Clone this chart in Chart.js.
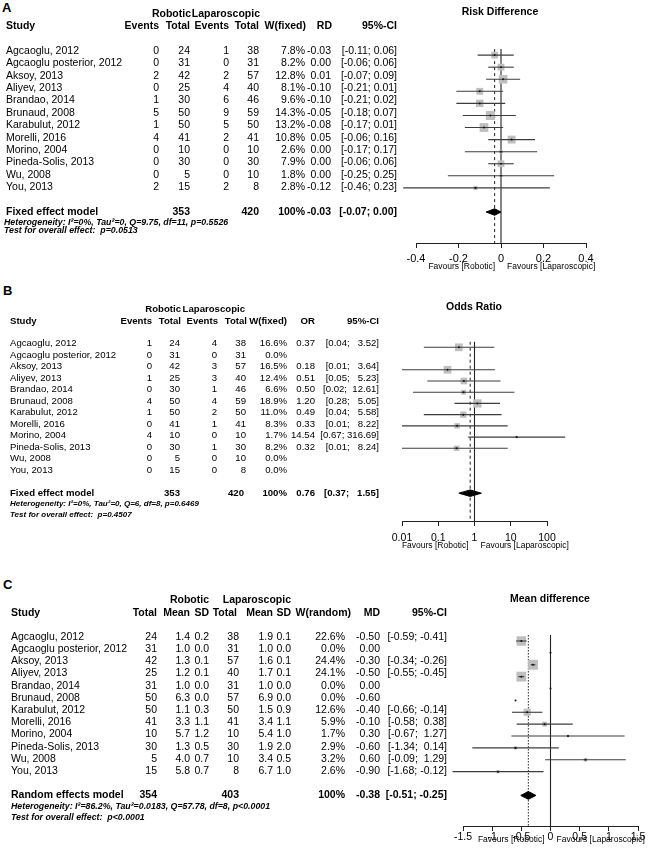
<!DOCTYPE html>
<html>
<head>
<meta charset="utf-8">
<script src="https://cdn.jsdelivr.net/npm/chart.js@4.4.1/dist/chart.umd.min.js"></script>
<style>
html, body { margin: 0; padding: 0; background: #fff; }
#page { position: relative; width: 650px; height: 857px; overflow: hidden;
        font-family: "Liberation Sans", Arial, sans-serif; color: #000; }
.t { position: absolute; white-space: pre; line-height: 1; }
.box { position: absolute; }
</style>
</head>
<body>
<div id="page">
  <div class="box" style="left:320px;top:0px;width:330px;height:273px"><canvas id="plotA"></canvas></div>
  <div class="box" style="left:320px;top:280px;width:330px;height:271px"><canvas id="plotB"></canvas></div>
  <div class="box" style="left:320px;top:560px;width:330px;height:296px"><canvas id="plotC"></canvas></div>
</div>
<script>
var studies = ['Agcaoglu, 2012', 'Agcaoglu posterior, 2012', 'Aksoy, 2013', 'Aliyev, 2013',
               'Brandao, 2014', 'Brunaud, 2008', 'Karabulut, 2012', 'Morelli, 2016',
               'Morino, 2004', 'Pineda-Solis, 2013', 'Wu, 2008', 'You, 2013'];

// A - risk difference
var robEventsA = [0, 0, 2, 0, 1, 5, 1, 4, 0, 0, 0, 2];
var robTotalA  = [24, 31, 42, 25, 30, 50, 50, 41, 10, 30, 5, 15];
var lapEventsA = [1, 0, 2, 4, 6, 9, 5, 2, 0, 0, 0, 2];
var lapTotalA  = [38, 31, 57, 40, 46, 59, 50, 41, 10, 30, 10, 8];
var weightA    = [7.8, 8.2, 12.8, 8.1, 9.6, 14.3, 13.2, 10.8, 2.6, 7.9, 1.8, 2.8];
var rdA        = [-0.03, 0.00, 0.01, -0.10, -0.10, -0.05, -0.08, 0.05, 0.00, 0.00, 0.00, -0.12];
var rdLowA     = [-0.11, -0.06, -0.07, -0.21, -0.21, -0.18, -0.17, -0.06, -0.17, -0.06, -0.25, -0.46];
var rdHighA    = [0.06, 0.06, 0.09, 0.01, 0.02, 0.07, 0.01, 0.16, 0.17, 0.06, 0.25, 0.23];
var summaryA   = [-0.03, -0.07, 0.00];
var totalsA    = [353, 420];
var ticksA     = [-0.4, -0.2, 0, 0.2, 0.4];
var tickLabelsA = ['-0.4', '-0.2', '0', '0.2', '0.4'];
var hetA  = 'Heterogeneity: I\u00b2=0%, Tau\u00b2=0, Q=9.75, df=11, p=0.5526';
var testA = 'Test for overall effect:  p=0.0513';

// B - odds ratio
var robEventsB = [1, 0, 0, 1, 0, 4, 1, 0, 4, 0, 0, 0];
var robTotalB  = [24, 31, 42, 25, 30, 50, 50, 41, 10, 30, 5, 15];
var lapEventsB = [4, 0, 3, 3, 1, 4, 2, 1, 0, 1, 0, 0];
var lapTotalB  = [38, 31, 57, 40, 46, 59, 50, 41, 10, 30, 10, 8];
var weightB    = [16.6, 0.0, 16.5, 12.4, 6.6, 18.9, 11.0, 8.3, 1.7, 8.2, 0.0, 0.0];
var orB        = [0.37, null, 0.18, 0.51, 0.50, 1.20, 0.49, 0.33, 14.54, 0.32, null, null];
var orLowB     = [0.04, null, 0.01, 0.05, 0.02, 0.28, 0.04, 0.01, 0.67, 0.01, null, null];
var orHighB    = [3.52, null, 3.64, 5.23, 12.61, 5.05, 5.58, 8.22, 316.69, 8.24, null, null];
var summaryB   = [0.76, 0.37, 1.55];
var totalsB    = [353, 420];
var ticksB     = [0.01, 0.1, 1, 10, 100];
var tickLabelsB = ['0.01', '0.1', '1', '10', '100'];
var hetB  = 'Heterogeneity: I\u00b2=0%, Tau\u00b2=0, Q=6, df=8, p=0.6469';
var testB = 'Test for overall effect:  p=0.4507';

// C - mean difference
var robTotalC = [24, 31, 42, 25, 31, 50, 50, 41, 10, 30, 5, 15];
var robMeanC  = [1.4, 1.0, 1.3, 1.2, 1.0, 6.3, 1.1, 3.3, 5.7, 1.3, 4.0, 5.8];
var robSdC    = [0.2, 0.0, 0.1, 0.1, 0.0, 0.0, 0.3, 1.1, 1.2, 0.5, 0.7, 0.7];
var lapTotalC = [38, 31, 57, 40, 31, 57, 50, 41, 10, 30, 10, 8];
var lapMeanC  = [1.9, 1.0, 1.6, 1.7, 1.0, 6.9, 1.5, 3.4, 5.4, 1.9, 3.4, 6.7];
var lapSdC    = [0.1, 0.0, 0.1, 0.1, 0.0, 0.0, 0.9, 1.1, 1.0, 2.0, 0.5, 1.0];
var weightC   = [22.6, 0.0, 24.4, 24.1, 0.0, 0.0, 12.6, 5.9, 1.7, 2.9, 3.2, 2.6];
var mdC       = [-0.50, 0.00, -0.30, -0.50, 0.00, -0.60, -0.40, -0.10, 0.30, -0.60, 0.60, -0.90];
var mdLowC    = [-0.59, null, -0.34, -0.55, null, null, -0.66, -0.58, -0.67, -1.34, -0.09, -1.68];
var mdHighC   = [-0.41, null, -0.26, -0.45, null, null, -0.14, 0.38, 1.27, 0.14, 1.29, -0.12];
var summaryC  = [-0.38, -0.51, -0.25];
var totalsC   = [354, 403];
var ticksC    = [-1.5, -1, -0.5, 0, 0.5, 1, 1.5];
var tickLabelsC = ['-1.5', '-1', '-0.5', '0', '0.5', '1', '1.5'];
var hetC  = 'Heterogeneity: I\u00b2=86.2%, Tau\u00b2=0.0183, Q=57.78, df=8, p<0.0001';
var testC = 'Test for overall effect:  p<0.0001';

var page = document.getElementById('page');
var SUMMARY_ROW = 13;

function text(x, y, s, o) {
    o = o || {};
    var size = o.size || 10.5;
    var el = document.createElement('div');
    el.className = 't';
    el.textContent = s;
    el.style.fontSize = size + 'px';
    if (o.bold) el.style.fontWeight = 'bold';
    if (o.italic) el.style.fontStyle = 'italic';
    el.style.top = (y - size / 2) + 'px';
    if (o.align == 'right')
        el.style.right = (650 - x) + 'px';
    else if (o.align == 'center') {
        el.style.left = x + 'px';
        el.style.transform = 'translateX(-50%)';
    } else
        el.style.left = x + 'px';
    page.appendChild(el);
}

function column(x, ys, vals, o) {
    for (var i = 0; i < vals.length; i++) {
        if (vals[i] === '' || vals[i] == null) continue;
        text(x, ys[i], String(vals[i]), o);
    }
}

function fix(arr, d) {
    return arr.map(function(v) { return v == null ? '' : v.toFixed(d); });
}

function pct(arr) {
    return arr.map(function(v) { return v.toFixed(1) + '%'; });
}

// R style "[lo; hi]" with padded widths
function ciStrings(lo, hi) {
    var l = fix(lo, 2), h = fix(hi, 2);
    var lw = 0, hw = 0;
    l.forEach(function(s) { lw = Math.max(lw, s.length); });
    h.forEach(function(s) { hw = Math.max(hw, s.length); });
    return l.map(function(s, i) {
        if (s === '') return '';
        return '[' + s.padStart(lw) + '; ' + h[i].padStart(hw) + ']';
    });
}

function rowsY(row0, rowH) {
    return studies.map(function(s, i) { return row0 + i * rowH; });
}

/// Tables
function tableA() {
    var r0 = 50, rh = 12.4, f = 10.5;
    var ys = rowsY(r0, rh), ySum = r0 + SUMMARY_ROW * rh;
    var R = {align: 'right', size: f}, RB = {align: 'right', size: f, bold: true};
    var ci = ciStrings(rdLowA.concat([summaryA[1]]), rdHighA.concat([summaryA[2]]));

    text(2, 7, 'A', {size: 13, bold: true});
    text(191, 13, 'Robotic', RB);
    text(260, 13, 'Laparoscopic', RB);
    text(6, 25, 'Study', {size: f, bold: true});
    text(159, 25, 'Events', RB); text(190, 25, 'Total', RB);
    text(229, 25, 'Events', RB); text(259, 25, 'Total', RB);
    text(306, 25, 'W(fixed)', RB); text(332, 25, 'RD', RB); text(397, 25, '95%-CI', RB);

    column(6, ys, studies, {size: f});
    column(159, ys, robEventsA, R); column(190, ys, robTotalA, R);
    column(229, ys, lapEventsA, R); column(259, ys, lapTotalA, R);
    column(305, ys, pct(weightA), R); column(331, ys, fix(rdA, 2), R);
    column(397, ys, ci.slice(0, studies.length), R);

    text(6, ySum, 'Fixed effect model', {size: f, bold: true});
    text(190, ySum, String(totalsA[0]), RB); text(259, ySum, String(totalsA[1]), RB);
    text(305, ySum, '100%', RB); text(331, ySum, summaryA[0].toFixed(2), RB);
    text(397, ySum, ci[studies.length], RB);
    text(4, ySum + 11, hetA, {size: 8.8, bold: true, italic: true});
    text(4, ySum + 19.5, testA, {size: 8.8, bold: true, italic: true});
    text(500, 11, 'Risk Difference', {size: f, bold: true, align: 'center'});
}

function tableB() {
    var r0 = 343, rh = 11.5, f = 9.6;
    var ys = rowsY(r0, rh), ySum = r0 + SUMMARY_ROW * rh;
    var R = {align: 'right', size: f}, RB = {align: 'right', size: f, bold: true};
    var ci = ciStrings(orLowB.concat([summaryB[1]]), orHighB.concat([summaryB[2]]));

    text(3, 290, 'B', {size: 13, bold: true});
    text(181, 309, 'Robotic', RB);
    text(245, 309, 'Laparoscopic', RB);
    text(10, 321, 'Study', {size: f, bold: true});
    text(152, 321, 'Events', RB); text(181, 321, 'Total', RB);
    text(218, 321, 'Events', RB); text(247, 321, 'Total', RB);
    text(287, 321, 'W(fixed)', RB); text(315, 321, 'OR', RB); text(379, 321, '95%-CI', RB);

    column(10, ys, studies, {size: f});
    column(152, ys, robEventsB, R); column(180, ys, robTotalB, R);
    column(217, ys, lapEventsB, R); column(246, ys, lapTotalB, R);
    column(287, ys, pct(weightB), R); column(315, ys, fix(orB, 2), R);
    column(379, ys, ci.slice(0, studies.length), R);

    text(10, ySum, 'Fixed effect model', {size: f, bold: true});
    text(180, ySum, String(totalsB[0]), RB); text(244, ySum, String(totalsB[1]), RB);
    text(287, ySum, '100%', RB); text(315, ySum, summaryB[0].toFixed(2), RB);
    text(379, ySum, ci[studies.length], RB);
    text(10, ySum + 11, hetB, {size: 8, bold: true, italic: true});
    text(10, ySum + 22, testB, {size: 8, bold: true, italic: true});
    text(474, 306, 'Odds Ratio', {size: 10.5, bold: true, align: 'center'});
}

function tableC() {
    var r0 = 636, rh = 12.2, f = 10.5;
    var ys = rowsY(r0, rh), ySum = r0 + SUMMARY_ROW * rh;
    var R = {align: 'right', size: f}, RB = {align: 'right', size: f, bold: true};
    var ci = ciStrings(mdLowC.concat([summaryC[1]]), mdHighC.concat([summaryC[2]]));

    text(3, 584, 'C', {size: 13, bold: true});
    text(209, 599, 'Robotic', RB);
    text(291, 599, 'Laparoscopic', RB);
    text(11, 612, 'Study', {size: f, bold: true});
    text(157, 612, 'Total', RB); text(190, 612, 'Mean', RB); text(209, 612, 'SD', RB);
    text(237, 612, 'Total', RB); text(273, 612, 'Mean', RB); text(291, 612, 'SD', RB);
    text(351, 612, 'W(random)', RB); text(380, 612, 'MD', RB); text(447, 612, '95%-CI', RB);

    column(11, ys, studies, {size: f});
    column(157, ys, robTotalC, R); column(190, ys, fix(robMeanC, 1), R); column(209, ys, fix(robSdC, 1), R);
    column(239, ys, lapTotalC, R); column(273, ys, fix(lapMeanC, 1), R); column(291, ys, fix(lapSdC, 1), R);
    column(345, ys, pct(weightC), R); column(380, ys, fix(mdC, 2), R);
    column(447, ys, ci.slice(0, studies.length), R);

    text(11, ySum, 'Random effects model', {size: f, bold: true});
    text(157, ySum, String(totalsC[0]), RB); text(239, ySum, String(totalsC[1]), RB);
    text(345, ySum, '100%', RB); text(380, ySum, summaryC[0].toFixed(2), RB);
    text(447, ySum, ci[studies.length], RB);
    text(11, ySum + 12, hetC, {size: 8.8, bold: true, italic: true});
    text(11, ySum + 23, testC, {size: 8.8, bold: true, italic: true});
    text(550, 598, 'Mean difference', {size: 10.5, bold: true, align: 'center'});
}

/// Favours labels under the axis, either side of the reference line
var favoursPlugin = {
    id: 'favours',
    afterDraw: function(chart, args, o) {
        var ctx = chart.ctx;
        var px = chart.scales.x.getPixelForValue(o.ref);
        var y = chart.chartArea.bottom + o.dy;
        ctx.save();
        ctx.font = '8.5px "Liberation Sans", Arial, sans-serif';
        ctx.fillStyle = '#000';
        ctx.textBaseline = 'middle';
        ctx.textAlign = 'right';
        ctx.fillText('Favours [Robotic]', px - o.gap, y);
        ctx.textAlign = 'left';
        ctx.fillText('Favours [Laparoscopic]', px + o.gap, y);
        ctx.restore();
    }
};

Chart.defaults.font.family = '"Liberation Sans", Arial, sans-serif';
Chart.defaults.color = '#000';

function forestPlot(id, p) {
    var datasets = [];
    var dots = [], squares = [], sizes = [];
    for (var i = 0; i < p.est.length; i++) {
        if (p.est[i] == null) continue;
        dots.push({x: p.est[i], y: i});
        if (p.weight[i] > 0) {
            squares.push({x: p.est[i], y: i});
            sizes.push(Math.sqrt(p.weight[i]) * p.boxScale / Math.SQRT2);
        }
        if (p.lo[i] != null) {
            datasets.push({
                data: [{x: p.lo[i], y: i}, {x: p.hi[i], y: i}],
                showLine: true, borderColor: '#3c3c3c', borderWidth: 1.1,
                pointRadius: 0, clip: false, order: 1
            });
        }
    }
    datasets.push({
        data: dots, pointStyle: 'circle', pointRadius: 1, pointBorderWidth: 0,
        pointBackgroundColor: '#111', clip: false, order: 0
    });
    datasets.push({
        data: squares, pointStyle: 'rect', pointRadius: sizes, pointBorderWidth: 0,
        pointBackgroundColor: '#bfbfbf', clip: false, order: 2
    });

    var s = p.summary, r = SUMMARY_ROW, h = p.diamondH;
    datasets.push({
        data: [{x: s[1], y: r}, {x: s[0], y: r - h}, {x: s[2], y: r}, {x: s[0], y: r + h}, {x: s[1], y: r}],
        showLine: true, fill: 'shape', backgroundColor: '#000', borderColor: '#000',
        borderWidth: 1, pointRadius: 0, clip: false, order: 1
    });

    var yMin = (p.top - p.row0) / p.rowH;
    var yMax = (p.axisY - p.row0) / p.rowH;
    var yTop = -0.5;
    datasets.push({
        data: [{x: p.ref, y: yTop}, {x: p.ref, y: yMax}],
        showLine: true, borderColor: '#222', borderWidth: 1.1, pointRadius: 0, order: 3
    });
    datasets.push({
        data: [{x: s[0], y: yTop}, {x: s[0], y: yMax}],
        showLine: true, borderColor: '#222', borderWidth: 1, borderDash: p.dash,
        pointRadius: 0, order: 3
    });

    return new Chart(document.getElementById(id), {
        type: 'scatter',
        data: {datasets: datasets},
        plugins: [favoursPlugin],
        options: {
            responsive: true,
            maintainAspectRatio: false,
            animation: false,
            events: [],
            layout: {padding: {left: p.padLeft, right: p.padRight, top: 0, bottom: 0}},
            plugins: {
                legend: {display: false},
                tooltip: {enabled: false},
                favours: {ref: p.ref, dy: p.favDy, gap: 6}
            },
            scales: {
                x: {
                    type: p.log ? 'logarithmic' : 'linear',
                    min: p.ticks[0],
                    max: p.ticks[p.ticks.length - 1],
                    afterBuildTicks: function(scale) {
                        scale.ticks = p.ticks.map(function(v) { return {value: v}; });
                    },
                    afterFit: function(scale) { scale.height = p.axisH; },
                    ticks: {
                        autoSkip: false, maxRotation: 0, padding: p.tickPad,
                        font: {size: p.tickFont},
                        callback: function(v, idx) { return p.tickLabels[idx]; }
                    },
                    grid: {drawOnChartArea: false, drawTicks: true, tickLength: 5, color: '#222'},
                    border: {display: true, color: '#222', width: 1}
                },
                y: {type: 'linear', reverse: true, min: yMin, max: yMax, display: false}
            }
        }
    });
}

tableA();
tableB();
tableC();

forestPlot('plotA', {
    est: rdA, lo: rdLowA, hi: rdHighA, weight: weightA, summary: summaryA,
    ref: 0, ticks: ticksA, tickLabels: tickLabelsA, log: false,
    top: 0, row0: 50, rowH: 12.4, axisY: 243, axisH: 30,
    padLeft: 96, padRight: 64, boxScale: 2.4, diamondH: 0.27,
    dash: [3, 3], tickPad: 4, tickFont: 11, favDy: 24
});

forestPlot('plotB', {
    est: orB, lo: orLowB, hi: orHighB, weight: weightB, summary: summaryB,
    ref: 1, ticks: ticksB, tickLabels: tickLabelsB, log: true,
    top: 280, row0: 343, rowH: 11.5, axisY: 521, axisH: 30,
    padLeft: 82, padRight: 103, boxScale: 1.9, diamondH: 0.29,
    dash: [3, 3], tickPad: 6, tickFont: 10.5, favDy: 25
});

forestPlot('plotC', {
    est: mdC, lo: mdLowC, hi: mdHighC, weight: weightC, summary: summaryC,
    ref: 0, ticks: ticksC, tickLabels: tickLabelsC, log: false,
    top: 560, row0: 636, rowH: 12.2, axisY: 826, axisH: 30,
    padLeft: 143, padRight: 12, boxScale: 2.0, diamondH: 0.33,
    dash: [1.5, 1.5], tickPad: 0, tickFont: 10.5, favDy: 14
});
</script>
</body>
</html>
